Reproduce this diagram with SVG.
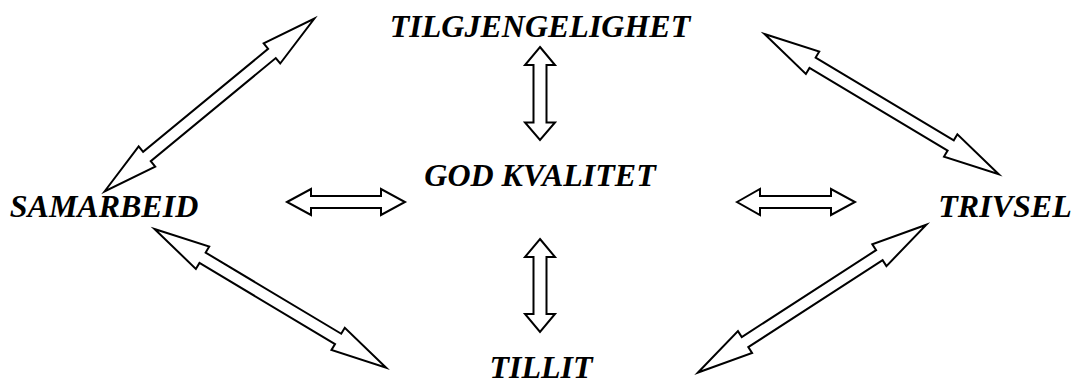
<svg xmlns="http://www.w3.org/2000/svg" width="1073" height="386" viewBox="0 0 1073 386">
<style>
.lbl{font-family:"Liberation Serif","Times New Roman",serif;font-weight:bold;font-style:italic;font-size:32px;fill:#000;text-anchor:middle}
.arr{fill:#fff;stroke:#000;stroke-width:2;stroke-linejoin:miter;stroke-miterlimit:20}
</style>
<rect width="1073" height="386" fill="#fff"/>
<g id="connectors">
  <polygon class="arr" transform="translate(104.5,191.5) rotate(-39.5)" points="0,0 55,-13 55,-6 217,-6 217,-13 272,0 217,13 217,6 55,6 55,13"/>
  <polygon class="arr" transform="translate(764.5,34) rotate(30.9)" points="0,0 56,-13 56,-6 217,-6 217,-13 273,0 217,13 217,6 56,6 56,13"/>
  <polygon class="arr" transform="translate(154.5,229) rotate(30.9)" points="0,0 56,-13 56,-6 214,-6 214,-13 270,0 214,13 214,6 56,6 56,13"/>
  <polygon class="arr" transform="translate(698,372.5) rotate(-32.9)" points="0,0 56,-13 56,-6 216,-6 216,-13 272,0 216,13 216,6 56,6 56,13"/>
  <polygon class="arr" points="540,47 555,65 546.5,65 546.5,122.5 555,122.5 540,140 525,122.5 533.5,122.5 533.5,65 525,65"/>
  <polygon class="arr" points="540,239 555,257 546.5,257 546.5,314 555,314 540,332 525,314 533.5,314 533.5,257 525,257"/>
  <polygon class="arr" points="287,202 311,189 311,196 381,196 381,189 405,202 381,215 381,208 311,208 311,215"/>
  <polygon class="arr" points="737,202 760,189 760,196 831,196 831,189 855,202 831,215 831,208 760,208 760,215"/>
</g>
<g id="tilgjengelighet"><text class="lbl" x="540" y="37">TILGJENGELIGHET</text></g>
<g id="god-kvalitet"><text class="lbl" x="540" y="186">GOD KVALITET</text></g>
<g id="samarbeid"><text class="lbl" x="104" y="217">SAMARBEID</text></g>
<g id="trivsel"><text class="lbl" x="1005" y="217">TRIVSEL</text></g>
<g id="tillit"><text class="lbl" x="541" y="378">TILLIT</text></g>
</svg>
